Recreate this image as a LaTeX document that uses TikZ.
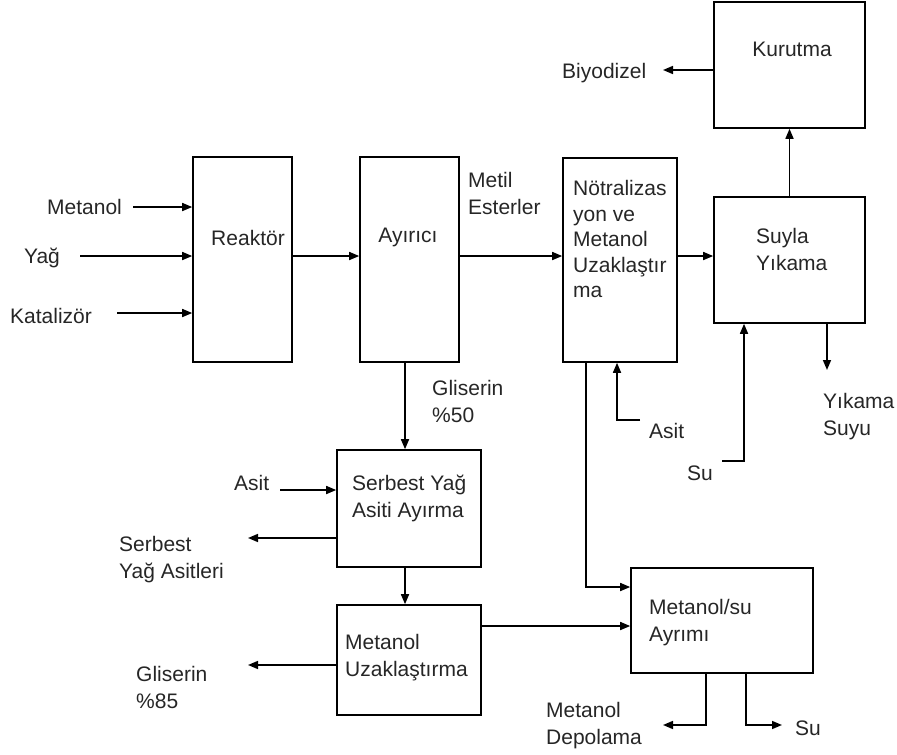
\documentclass[tikz,border=0pt]{standalone}
\usepackage{fontspec}
\setmainfont{Liberation Sans}
\usetikzlibrary{arrows.meta}
\begin{document}
\begin{tikzpicture}[x=1pt,y=-1pt,
  box/.style={draw, line width=1.6pt, inner sep=0pt},
  arr/.style={-{Triangle[length=10pt,width=8pt]}, line width=1.6pt},
  lbl/.style={font=\fontsize{21}{27}\selectfont, inner sep=0pt, align=left, text=black!85}]
\useasboundingbox (0,0) rectangle (897,755);
% boxes
\node[box, minimum width=99pt, minimum height=205pt] (reaktor) at (242.5,259.5) {};
\node[box, minimum width=99pt, minimum height=205pt] (ayirici) at (409.5,259.5) {};
\node[box, minimum width=114pt, minimum height=204pt] (notr) at (620,260) {};
\node[box, minimum width=151pt, minimum height=126pt] (suyla) at (789.5,260) {};
\node[box, minimum width=151pt, minimum height=126pt] (kurutma) at (789.5,65) {};
\node[box, minimum width=144pt, minimum height=117pt] (serbest) at (409,508.5) {};
\node[box, minimum width=144pt, minimum height=110pt] (metuz) at (409,660) {};
\node[box, minimum width=182pt, minimum height=105pt] (metsu) at (722,620.5) {};
% box labels
\node[lbl] (tReaktor) at (248,238) {Reaktör};
\node[lbl] (tAyirici) at (408,237) {Ayırıcı};
\node[lbl, anchor=west, font=\fontsize{21}{25.5}\selectfont] (tNotr) at (573,239) {Nötralizas\\yon ve\\Metanol\\Uzaklaştır\\ma};
\node[lbl] (tKurutma) at (792,49) {Kurutma};
\node[lbl, anchor=west] (tSuyla) at (756,249) {Suyla\\Yıkama};
\node[lbl, anchor=west] (tSerbest) at (352,498.5) {Serbest Yağ\\Asiti Ayırma};
\node[lbl, anchor=west] (tMetuz) at (345,658) {Metanol\\Uzaklaştırma};
\node[lbl, anchor=west] (tMetsu) at (649,622.5) {Metanol/su\\Ayrımı};
% stream labels
\node[lbl, anchor=west] (lMetanol) at (47,207) {Metanol};
\node[lbl] (lYag) at (42,258) {Yağ};
\node[lbl, anchor=west] (lKat) at (10,316) {Katalizör};
\node[lbl, anchor=west] (lMetil) at (468,193.5) {Metil\\Esterler};
\node[lbl, anchor=west] (lBiyo) at (562,73) {Biyodizel};
\node[lbl, anchor=west] (lYS) at (823,416.5) {Yıkama\\Suyu};
\node[lbl, anchor=west] (lAsit2) at (649,431) {Asit};
\node[lbl, anchor=west] (lSu) at (687,473) {Su};
\node[lbl, anchor=west] (lGl50) at (432,401) {Gliserin\\\%50};
\node[lbl, anchor=west] (lAsit1) at (234,483) {Asit};
\node[lbl, anchor=west] (lSYA) at (119,559.5) {Serbest\\Yağ Asitleri};
\node[lbl, anchor=west] (lGl85) at (136,687.5) {Gliserin\\\%85};
\node[lbl, anchor=west] (lMD) at (546,725.5) {Metanol\\Depolama};
\node[lbl, anchor=west] (lSu2) at (795,728) {Su};
% free ends and bends
\coordinate (sMetanol) at (133,207);
\coordinate (sYag) at (80,256);
\coordinate (sKat) at (117,313);
\coordinate (kMain) at (300,256);
\coordinate (eBiyo) at (663,70);
\coordinate (eYS) at (827,370);
\coordinate (sSu) at (722,461);
\coordinate (kSu) at (744,461);
\coordinate (sAsit2) at (640,420);
\coordinate (kAsit2) at (617,420);
\coordinate (kN) at (586,587);
\coordinate (kG) at (405,400);
\coordinate (sAsit1) at (280,490);
\coordinate (eSYA) at (248,538);
\coordinate (eGl85) at (248,665);
\coordinate (kM) at (500,626);
\coordinate (kMD) at (706,725);
\coordinate (eMD) at (663,725);
\coordinate (kSu2) at (746,725);
\coordinate (eSu2) at (782,725);
% connectors
\draw[arr] (sMetanol) -- (sMetanol -| reaktor.west);
\draw[arr] (sYag) -- (sYag -| reaktor.west);
\draw[arr] (sKat) -- (sKat -| reaktor.west);
\draw[arr] (kMain -| reaktor.east) -- (kMain -| ayirici.west);
\draw[arr] (kMain -| ayirici.east) -- (kMain -| notr.west);
\draw[arr] (kMain -| notr.east) -- (kMain -| suyla.west);
\draw[arr] (suyla.north) -- (kurutma.south);
\draw[arr] (eBiyo -| kurutma.west) -- (eBiyo);
\draw[arr] (eYS |- suyla.south) -- (eYS);
\draw[arr] (sSu) -- (kSu) -- (kSu |- suyla.south);
\draw[arr] (sAsit2) -- (kAsit2) -- (kAsit2 |- notr.south);
\draw[arr] (kN |- notr.south) -- (kN) -- (kN -| metsu.west);
\draw[arr] (kG |- ayirici.south) -- (kG |- serbest.north);
\draw[arr] (sAsit1) -- (sAsit1 -| serbest.west);
\draw[arr] (eSYA -| serbest.west) -- (eSYA);
\draw[arr] (kG |- serbest.south) -- (kG |- metuz.north);
\draw[arr] (eGl85 -| metuz.west) -- (eGl85);
\draw[arr] (kM -| metuz.east) -- (kM -| metsu.west);
\draw[arr] (kMD |- metsu.south) -- (kMD) -- (eMD);
\draw[arr] (kSu2 |- metsu.south) -- (kSu2) -- (eSu2);
\end{tikzpicture}
\end{document}
